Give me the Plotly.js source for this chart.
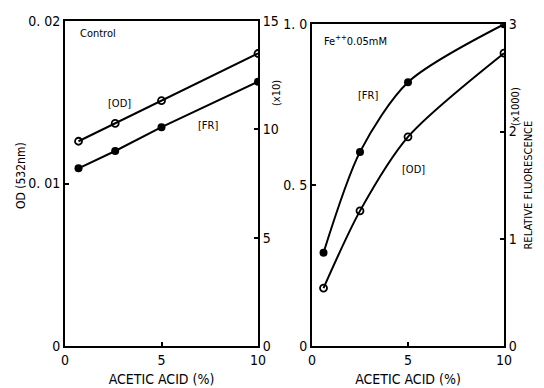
<!DOCTYPE html>
<html><head><meta charset="utf-8">
<script src="https://cdn.plot.ly/plotly-3.0.1.min.js"></script>
<style>body{margin:0;padding:0;background:#fff}#chart{width:544px;height:388px}</style>
</head><body><div id="chart"></div>
<script>
// Left panel (Control)
const xControl = [0.7, 2.6, 5, 10];
const odControl = [0.0126, 0.0137, 0.0151, 0.0180];
const frControl = [8.2, 9.0, 10.1, 12.2];
// Right panel (Fe++ 0.05mM)
const xFe = [0.6, 2.5, 5, 10];
const odFe = [0.18, 0.42, 0.65, 0.91];
const frFe = [0.87, 1.81, 2.46, 3.0];

const xTicks = [0, 5, 10];
const xTickText = ['0', '5', '10'];
const odTicks = [0, 0.01, 0.02];
const odTickText = ['0', '0. 01', '0. 02'];
const fr10Ticks = [0, 5, 10, 15];
const fr10TickText = ['0', '5', '10', '15'];
const odFeTicks = [0, 0.5, 1.0];
const odFeTickText = ['0', '0. 5', '1. 0'];
const fr1000Ticks = [0, 1, 2, 3];
const fr1000TickText = ['0', '1', '2', '3'];

const FONT = '"DejaVu Sans Condensed", "DejaVu Sans", sans-serif';
const openM = {symbol: 'circle-open', size: 7, color: '#000', line: {width: 1.8, color: '#000'}};
const fillM = {symbol: 'circle', size: 8, color: '#000'};

const traces = [
  {x: xControl, y: odControl, xaxis: 'x', yaxis: 'y', mode: 'lines+markers', line: {color: '#000', width: 2}, marker: openM},
  {x: xControl, y: frControl, xaxis: 'x', yaxis: 'y2', mode: 'lines+markers', line: {color: '#000', width: 2}, marker: fillM},
  {x: xFe, y: odFe, xaxis: 'x2', yaxis: 'y3', mode: 'lines+markers', line: {color: '#000', width: 2, shape: 'spline', smoothing: 0.8}, marker: openM},
  {x: xFe, y: frFe, xaxis: 'x2', yaxis: 'y4', mode: 'lines+markers', line: {color: '#000', width: 2, shape: 'spline', smoothing: 0.8}, marker: fillM}
];

const axBase = {showgrid: false, zeroline: false, showline: true, linecolor: '#000', linewidth: 2,
  ticks: 'inside', ticklen: 4, tickwidth: 2, tickcolor: '#000', tickmode: 'array',
  tickfont: {family: FONT, size: 14, color: '#000'}};

const layout = {
  width: 544, height: 388,
  margin: {l: 0, r: 0, t: 21, b: 42},
  paper_bgcolor: '#fff', plot_bgcolor: '#fff',
  showlegend: false,
  font: {family: FONT, color: '#000'},
  xaxis: Object.assign({}, axBase, {domain: [65/544, 258/544], range: [0, 10], tickvals: xTicks, ticktext: xTickText, mirror: true, anchor: 'y',
    title: {text: 'ACETIC ACID (%)', font: {family: FONT, size: 14, color: '#000'}, standoff: 7}}),
  yaxis: Object.assign({}, axBase, {domain: [0, 1], range: [0, 0.02], tickvals: odTicks, ticktext: odTickText, anchor: 'x'}),
  yaxis2: Object.assign({}, axBase, {domain: [0, 1], range: [0, 15], tickvals: fr10Ticks, ticktext: fr10TickText, overlaying: 'y', side: 'right', anchor: 'x'}),
  xaxis2: Object.assign({}, axBase, {domain: [312/544, 504/544], range: [0, 10], tickvals: xTicks, ticktext: xTickText, mirror: true, anchor: 'y3',
    title: {text: 'ACETIC ACID (%)', font: {family: FONT, size: 14, color: '#000'}, standoff: 7}}),
  yaxis3: Object.assign({}, axBase, {domain: [0, 0.99], range: [0, 1.0], tickvals: odFeTicks, ticktext: odFeTickText, anchor: 'x2'}),
  yaxis4: Object.assign({}, axBase, {domain: [0, 0.99], range: [0, 3], tickvals: fr1000Ticks, ticktext: fr1000TickText, overlaying: 'y3', side: 'right', anchor: 'x2'}),
  annotations: [
    {text: 'OD (532nm)', xref: 'paper', yref: 'paper', x: 12/544, y: (346-176)/325, textangle: -90, showarrow: false, font: {family: FONT, size: 12}},
    {text: 'Control', xref: 'paper', yref: 'paper', x: 78/544, y: (346-33)/325, xanchor: 'left', yanchor: 'middle', showarrow: false, font: {family: FONT, size: 11}},
    {text: '[OD]', xref: 'x', yref: 'y', x: 2.8, y: 0.0149, showarrow: false, font: {family: FONT, size: 11}},
    {text: '[FR]', xref: 'x', yref: 'y', x: 7.4, y: 0.0136, showarrow: false, font: {family: FONT, size: 11}},
    {text: 'Fe<sup>++</sup>0.05mM', xref: 'paper', yref: 'paper', x: 322/544, y: (346-40)/325, xanchor: 'left', yanchor: 'middle', showarrow: false, font: {family: FONT, size: 11}},
    {text: '[FR]', xref: 'x2', yref: 'y3', x: 2.9, y: 0.78, showarrow: false, font: {family: FONT, size: 11}},
    {text: '[OD]', xref: 'x2', yref: 'y3', x: 5.3, y: 0.55, showarrow: false, font: {family: FONT, size: 11}},
    {text: '(x10)', xref: 'paper', yref: 'paper', x: 276/544, y: (346-78)/325, textangle: -90, showarrow: false, font: {family: FONT, size: 11}},
    {text: '(x1000)', xref: 'paper', yref: 'paper', x: 524/544, y: (346-85)/325, textangle: -90, showarrow: false, font: {family: FONT, size: 11}},
    {text: 'RELATIVE FLUORESCENCE', xref: 'paper', yref: 'paper', x: 536/544, y: (346-185)/325, textangle: -90, showarrow: false, font: {family: FONT, size: 11}}
  ]
};

Plotly.newPlot('chart', traces, layout, {staticPlot: true, displayModeBar: false});
</script></body></html>
